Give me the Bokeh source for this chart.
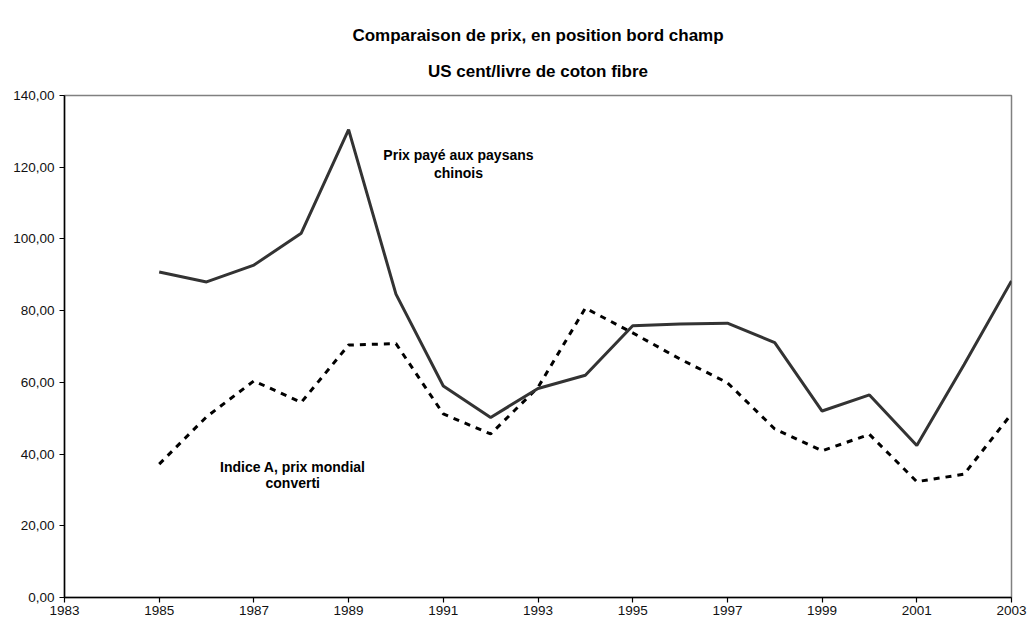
from bokeh.plotting import figure
from bokeh.models import Range1d, FixedTicker, Label, Title
from bokeh.embed import file_html
from bokeh.resources import INLINE

years = [1985, 1986, 1987, 1988, 1989, 1990, 1991, 1992, 1993, 1994,
         1995, 1996, 1997, 1998, 1999, 2000, 2001, 2002, 2003]
prix_paysans = [90.8, 88.0, 92.7, 101.6, 130.5, 84.6, 59.0, 50.2, 58.3, 62.0,
                75.8, 76.3, 76.5, 71.1, 52.0, 56.5, 42.4, 65.0, 88.3]
indice_a = [37.2, 50.4, 60.4, 54.4, 70.4, 70.8, 51.2, 45.6, 58.6, 80.7,
            73.8, 66.5, 59.9, 47.0, 40.9, 45.5, 32.3, 34.4, 51.2]

x_ticks = [1983, 1985, 1987, 1989, 1991, 1993, 1995, 1997, 1999, 2001, 2003]
y_ticks = [0, 20, 40, 60, 80, 100, 120, 140]
y_tick_labels = ["0,00", "20,00", "40,00", "60,00", "80,00", "100,00", "120,00", "140,00"]

title_lines = ["Comparaison de prix, en position bord champ", "US cent/livre de coton fibre"]
label_paysans = ["Prix payé aux paysans", "chinois"]
label_indice = ["Indice A, prix mondial", "converti"]

FONT = "Liberation Sans"

p = figure(width=1028, height=621, output_backend="svg", toolbar_location=None,
           x_range=Range1d(1983, 2003), y_range=Range1d(0, 140),
           min_border_left=64, min_border_right=17, min_border_top=95, min_border_bottom=24)
p.background_fill_color = "white"
p.border_fill_color = "white"
p.outline_line_color = "#808080"
p.outline_line_width = 1.5
p.xgrid.visible = False
p.ygrid.visible = False
p.title.visible = False

bottom_axis = p.below[0]
left_axis = p.left[0]

for ax in (bottom_axis, left_axis):
    ax.axis_line_color = "black"
    ax.axis_line_width = 1.5
    ax.major_tick_line_color = "black"
    ax.major_tick_line_width = 1.2
    ax.major_tick_in = 0
    ax.major_tick_out = 5
    ax.minor_tick_line_color = None
    ax.major_label_text_font = FONT
    ax.major_label_text_font_size = "13.5px"
    ax.major_label_text_color = "#111111"

bottom_axis.ticker = FixedTicker(ticks=x_ticks)
bottom_axis.major_label_standoff = 3
left_axis.ticker = FixedTicker(ticks=y_ticks)
left_axis.major_label_overrides = {t: s for t, s in zip(y_ticks, y_tick_labels)}
left_axis.major_label_standoff = 5

def make_title(txt, standoff):
    return Title(text=txt, align="center", text_font=FONT, text_font_style="bold",
                 text_font_size="17px", text_color="black", standoff=standoff)

p.add_layout(make_title(title_lines[1], 30), "above")
p.add_layout(make_title(title_lines[0], 0), "above")

p.line(years, indice_a, line_color="black", line_width=3, line_dash="6 6")
p.line(years, prix_paysans, line_color="#333333", line_width=3)

def add_text(x, y, txt, size):
    p.add_layout(Label(x=x, y=y, text=txt, text_font=FONT, text_font_style="bold",
                       text_font_size=size, text_align="center", text_baseline="middle",
                       text_color="black"))

add_text(1991.32, 123.3, label_paysans[0], "14px")
add_text(1991.32, 118.3, label_paysans[1], "14px")
add_text(1987.82, 36.5, label_indice[0], "14px")
add_text(1987.82, 31.8, label_indice[1], "14px")

open("out.html", "w").write(file_html(p, INLINE))
